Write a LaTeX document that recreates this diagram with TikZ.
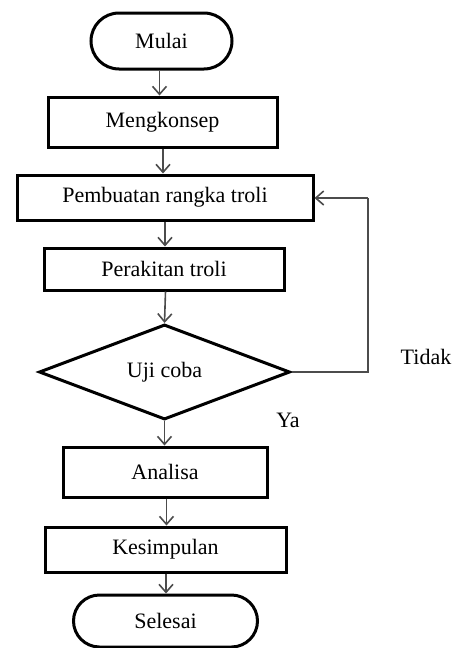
\documentclass[tikz,border=0pt]{standalone}
\usepackage{fontspec}
\setmainfont{Liberation Serif}
\usetikzlibrary{shapes.geometric,arrows.meta}
\begin{document}
\begin{tikzpicture}[x=1pt,y=-1pt,
  every node/.style={font=\fontsize{22}{26}\selectfont},
  box/.style={draw=black,line width=3pt,rectangle,inner sep=0pt},
  term/.style={draw=black,line width=3pt,rectangle,inner sep=0pt,rounded corners=26pt},
  dec/.style={draw=black,line width=3pt,diamond,inner sep=0pt},
  conn/.style={draw=black!70,line width=1.6pt,-{Straight Barb[length=8pt,width=14pt,line width=1.6pt]}},
  line/.style={draw=black!70,line width=1.6pt}]
\useasboundingbox (0,0) rectangle (454,648);
\node[term,minimum width=141pt,minimum height=56pt,rounded corners=28pt] (mulai) at (161.5,41) {Mulai};
\node[box,minimum width=229pt,minimum height=50pt] (konsep) at (162.5,122) {Mengkonsep};
\node[box,minimum width=296pt,minimum height=45pt] (rangka) at (165,197.5) {Pembuatan rangka troli};
\node[box,minimum width=240pt,minimum height=42pt] (rakit) at (164,269) {Perakitan troli};
\node[dec,minimum width=251pt,minimum height=90pt] (uji) at (164.5,372) {Uji coba};
\node[box,minimum width=204pt,minimum height=50pt] (analisa) at (165,472) {Analisa};
\node[box,minimum width=241pt,minimum height=45pt] (simpul) at (165.5,549.5) {Kesimpulan};
\node[term,minimum width=184pt,minimum height=52pt] (selesai) at (165.5,621) {Selesai};
\node (tidak) at (426,357) {Tidak};
\node (ya) at (288,420) {Ya};
\coordinate (loopb) at (368,372);
\coordinate (loopt) at (368,198);
\draw[conn] (mulai.south -| 159.5,0) -- (159.5,0 |- konsep.north);
\draw[conn] (konsep.south -| 163,0) -- (163,0 |- rangka.north);
\draw[conn] (rangka.south -| 165,0) -- (165,0 |- rakit.north);
\draw[conn] (rakit.south -| 165.5,0) -- (uji.north);
\draw[conn] (uji.south) -- (uji.south |- analisa.north);
\draw[conn] (analisa.south -| 166.5,0) -- (166.5,0 |- simpul.north);
\draw[conn] (simpul.south -| 166,0) -- (166,0 |- selesai.north);
\draw[line] (uji.east) -- (loopb) -- (loopt);
\draw[conn] (loopt) -- (loopt -| rangka.east);
\end{tikzpicture}
\end{document}
